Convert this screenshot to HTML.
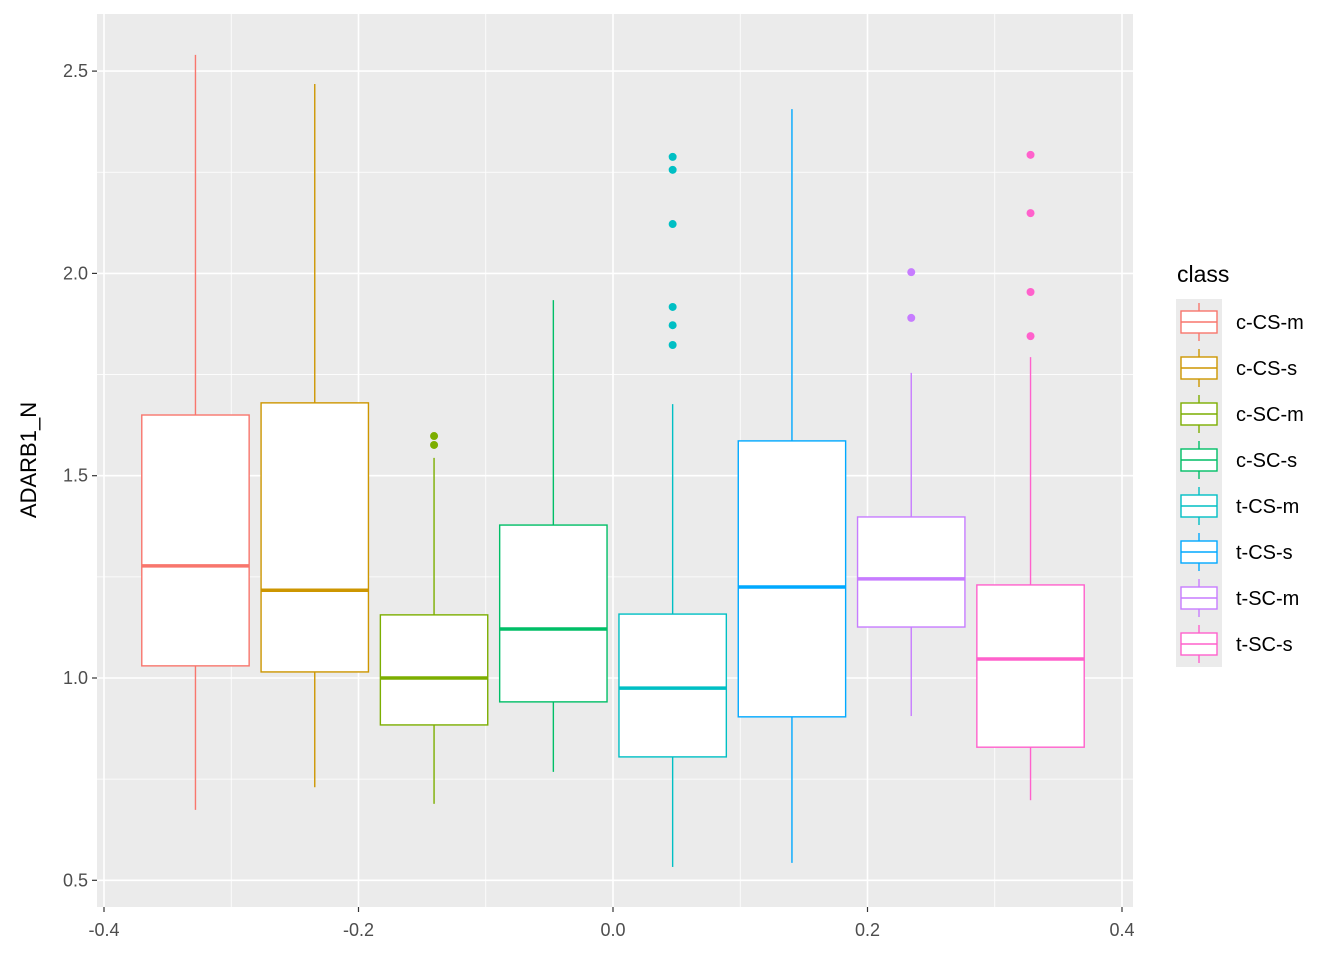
<!DOCTYPE html>
<html><head><meta charset="utf-8"><style>
body{margin:0;background:#fff;font-family:"Liberation Sans",Arial,sans-serif;}
</style></head><body>
<svg id="chart" width="1344" height="960" xmlns="http://www.w3.org/2000/svg">
<rect width="1344" height="960" fill="#fff"/>
<g id="panel"></g>
<g id="axes"></g>
<g id="boxes"></g>
<g id="legend"></g>
<text transform="translate(36,460) rotate(-90)" text-anchor="middle" font-size="22" fill="#000">ADARB1_N</text>
</svg>
<script>
const classes=["c-CS-m","c-CS-s","c-SC-m","c-SC-s","t-CS-m","t-CS-s","t-SC-m","t-SC-s"];
const colors=["#F8766D","#CD9600","#7CAE00","#00BE67","#00BFC4","#00A9FF","#C77CFF","#FF61CC"];
const lowerW=[0.674,0.730,0.689,0.768,0.533,0.543,0.906,0.698];
const q1=[1.030,1.015,0.884,0.941,0.805,0.904,1.126,0.829];
const med=[1.277,1.217,1.000,1.121,0.975,1.225,1.245,1.047];
const q3=[1.650,1.680,1.156,1.378,1.158,1.586,1.398,1.230];
const upperW=[2.540,2.468,1.544,1.934,1.677,2.406,1.754,1.793];
const outliers=[[],[],[1.598,1.576],[],[2.288,2.256,2.122,1.917,1.872,1.823],[],[2.003,1.890],[2.293,2.149,1.954,1.845]];
const xTicks=[-0.4,-0.2,0.0,0.2,0.4];
const xTickLabels=["-0.4","-0.2","0.0","0.2","0.4"];
const yTicks=[0.5,1.0,1.5,2.0,2.5];
const yTickLabels=["0.5","1.0","1.5","2.0","2.5"];

const L=97,R=1133,T=14,B=907;
const sx=v=>613+v*1272.5;
const sy=v=>678-(v-1)*404.6;
const NS="http://www.w3.org/2000/svg";
function mk(tag,attrs,parent){const e=document.createElementNS(NS,tag);for(const k in attrs)e.setAttribute(k,attrs[k]);parent.appendChild(e);return e;}
const panel=document.getElementById('panel'),axes=document.getElementById('axes'),boxes=document.getElementById('boxes'),legend=document.getElementById('legend');
const bg=mk('rect',{x:L,y:T,width:R-L,height:B-T,fill:'#EBEBEB'},panel);


for(let i=0;i<xTicks.length-1;i++){const v=(xTicks[i]+xTicks[i+1])/2;mk('line',{x1:sx(v),x2:sx(v),y1:T,y2:B,stroke:'#fff','stroke-width':0.8},panel);}
for(let i=0;i<yTicks.length-1;i++){const v=(yTicks[i]+yTicks[i+1])/2;mk('line',{x1:L,x2:R,y1:sy(v),y2:sy(v),stroke:'#fff','stroke-width':0.8},panel);}
xTicks.forEach((v,i)=>{
  mk('line',{x1:sx(v),x2:sx(v),y1:T,y2:B,stroke:'#fff','stroke-width':1.6},panel);
  mk('line',{x1:sx(v),x2:sx(v),y1:B,y2:B+5,stroke:'#333','stroke-width':1.2},axes);
  const t=mk('text',{x:sx(v),y:B+29,'text-anchor':'middle','font-size':18,fill:'#4D4D4D'},axes);t.textContent=xTickLabels[i];
  
  
});
yTicks.forEach((v,i)=>{
  mk('line',{x1:L,x2:R,y1:sy(v),y2:sy(v),stroke:'#fff','stroke-width':1.6},panel);
  mk('line',{x1:L-5,x2:L,y1:sy(v),y2:sy(v),stroke:'#333','stroke-width':1.2},axes);
  const t=mk('text',{x:L-9,y:sy(v)+6,'text-anchor':'end','font-size':18,fill:'#4D4D4D'},axes);t.textContent=yTickLabels[i];
  
  
});
const n=classes.length,group=0.75,w=group/n;
classes.forEach((c,i)=>{
  const cx=-group/2+w*(i+0.5);
  const x0=sx(cx-w*0.45),x1=sx(cx+w*0.45),xc=sx(cx),col=colors[i];
  const g=mk('g',{},boxes);
  
  
  mk('line',{x1:xc,x2:xc,y1:sy(lowerW[i]),y2:sy(q1[i]),stroke:col,'stroke-width':1.4},g);
  mk('line',{x1:xc,x2:xc,y1:sy(q3[i]),y2:sy(upperW[i]),stroke:col,'stroke-width':1.4},g);
  mk('rect',{x:x0,y:sy(q3[i]),width:x1-x0,height:sy(q1[i])-sy(q3[i]),fill:'#fff',stroke:col,'stroke-width':1.4},g);
  mk('line',{x1:x0,x2:x1,y1:sy(med[i]),y2:sy(med[i]),stroke:col,'stroke-width':3.5},g);
  outliers[i].forEach(o=>{const p=mk('circle',{cx:xc,cy:sy(o),r:4,fill:col},g);
    
    });
});
const lt=mk('text',{x:1177,y:282,'font-size':23,fill:'#000'},legend);lt.textContent='class';


classes.forEach((c,i)=>{
  const yc=322+i*46,col=colors[i];
  const g=mk('g',{},legend);
  
  
  mk('rect',{x:1176,y:yc-23,width:46,height:46,fill:'#EBEBEB'},g);
  mk('line',{x1:1199,x2:1199,y1:yc-19,y2:yc+19,stroke:col,'stroke-width':1.4},g);
  mk('rect',{x:1181,y:yc-11,width:36,height:22,fill:'#fff',stroke:col,'stroke-width':1.4},g);
  mk('line',{x1:1181,x2:1217,y1:yc,y2:yc,stroke:col,'stroke-width':1.4},g);
  const t=mk('text',{x:1236,y:yc+7,'font-size':20,fill:'#000'},g);t.textContent=c;
});
</script>
</body></html>
